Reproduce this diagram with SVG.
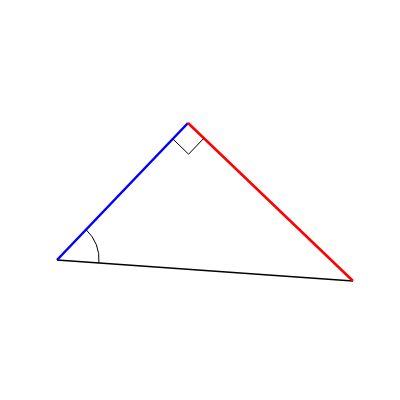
<svg xmlns="http://www.w3.org/2000/svg" width="400" height="400" viewBox="0 0 400 400">
<style>
.thin{fill:none;stroke:#000;stroke-width:1}
</style>
<rect width="400" height="400" fill="#fff"/>
<g id="connectors">
<line x1="57" y1="260" x2="353" y2="281" stroke="#000" stroke-width="1.5"/>
<line x1="57" y1="260" x2="188" y2="123" stroke="#0000ff" stroke-width="2.5"/>
<line x1="188" y1="123" x2="353" y2="281" stroke="#ff0000" stroke-width="2.5"/>
</g>
<g id="marks">
<path class="thin" d="M172.8,138.9 L188.6,154.2 L203.8,138.3"/>
<path class="thin" d="M86,229.6 A42,42 0 0 1 98.9,263"/>
</g>
</svg>
